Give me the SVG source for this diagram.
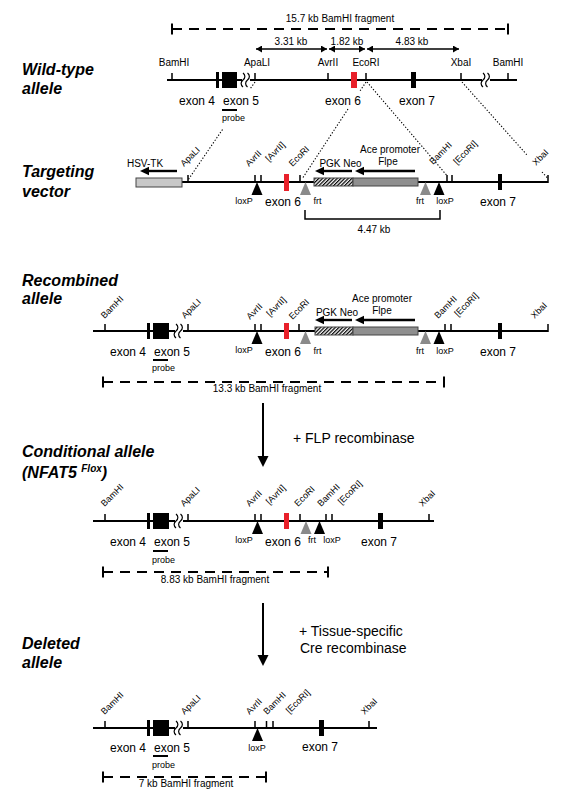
<svg xmlns="http://www.w3.org/2000/svg" width="561" height="800" viewBox="0 0 561 800">
<style>
text{font-family:'Liberation Sans',Arial,sans-serif;fill:#000}
.ttl{font-size:16px;font-weight:bold;font-style:italic}
.s12{font-size:12px}
.s10{font-size:10px}
.s9{font-size:9px}
.s14{font-size:14px}
.mid{text-anchor:middle}
.end{text-anchor:end}
.ln{stroke:#000;stroke-width:2;fill:none}
.tk{stroke:#000;stroke-width:1.5;fill:none}
.dash{stroke:#000;stroke-width:2.2;stroke-dasharray:10 7;fill:none}
.dot{stroke:#000;stroke-width:1.1;stroke-dasharray:1.3 1.8;fill:none}
.thin{stroke:#000;stroke-width:1.5;fill:none}
.arr{stroke:#000;stroke-width:2.4;fill:none}
.red{fill:#e8202a}
.blk{fill:#000}
.frt{fill:#8a8a8a}
.tk2{fill:#c8c8c8;stroke:#444;stroke-width:1}
.flp{fill:#8f8f8f;stroke:#444;stroke-width:1}
.hat{fill:url(#hatch);stroke:#444;stroke-width:1}
</style>
<defs>
<pattern id="hatch" width="2.6" height="2.6" patternUnits="userSpaceOnUse" patternTransform="rotate(45)">
<rect width="2.6" height="2.6" fill="#fff"/>
<line x1="0.6" y1="0" x2="0.6" y2="2.6" stroke="#000" stroke-width="1.3"/>
</pattern>
<marker id="ah" markerUnits="userSpaceOnUse" markerWidth="6" markerHeight="7" refX="6" refY="3.5" orient="auto-start-reverse">
<path d="M0,0L6,3.5L0,7z" fill="#000"/>
</marker>
<g id="brk">
<rect x="-4" y="-3" width="8" height="6" fill="#fff"/>
<path d="M-3,-7c2.5,2 2.5,5 0,7c-2.5,2 -2.5,5 0,7M1.5,-7c2.5,2 2.5,5 0,7c-2.5,2 -2.5,5 0,7" fill="none" stroke="#000" stroke-width="1.2"/>
</g>
<path id="lox" d="M-5.5,13L0,0L5.5,13z"/>
</defs>

<g id="wild-type">
<text class="ttl" x="22" y="75">Wild-type</text>
<text class="ttl" x="22" y="94">allele</text>
<line class="dash" x1="172" y1="29" x2="508" y2="29"/>
<line class="tk" x1="172" y1="23.5" x2="172" y2="34.5" style="stroke-width:2"/>
<line class="tk" x1="508" y1="23.5" x2="508" y2="34.5" style="stroke-width:2"/>
<text class="s10 mid" x="340" y="22">15.7 kb BamHI fragment</text>
<line class="thin" x1="256" y1="49" x2="327" y2="49" marker-start="url(#ah)" marker-end="url(#ah)"/>
<line class="thin" x1="329" y1="49" x2="365" y2="49" marker-start="url(#ah)" marker-end="url(#ah)"/>
<line class="thin" x1="367" y1="49" x2="459" y2="49" marker-start="url(#ah)" marker-end="url(#ah)"/>
<text class="s10 mid" x="291" y="44.5">3.31 kb</text>
<text class="s10 mid" x="347" y="44.5">1.82 kb</text>
<text class="s10 mid" x="412" y="44.5">4.83 kb</text>
<line class="ln" x1="167" y1="80" x2="517" y2="80"/>
<path class="tk" d="M172,73V80M255,73V80M328,73V80M366,73V80M461,73V80M508,73V80"/>
<text class="s10 mid" x="174" y="66">BamHI</text>
<text class="s10 mid" x="257" y="66">ApaLI</text>
<text class="s10 mid" x="328" y="66">AvrII</text>
<text class="s10 mid" x="366" y="66">EcoRI</text>
<text class="s10 mid" x="461" y="66">XbaI</text>
<text class="s10 mid" x="508" y="66">BamHI</text>
<rect class="blk" x="216" y="72" width="3" height="16"/>
<rect class="blk" x="222" y="72" width="15" height="16"/>
<rect class="red" x="351" y="72" width="6" height="16"/>
<rect class="blk" x="411" y="72" width="5" height="16"/>
<use href="#brk" x="246" y="80"/>
<use href="#brk" x="486" y="80"/>
<text class="s12 end" x="215" y="105">exon 4</text>
<text class="s12" x="223" y="105">exon 5</text>
<text class="s12 mid" x="343" y="105">exon 6</text>
<text class="s12 mid" x="417" y="105">exon 7</text>
<line class="ln" x1="222" y1="110" x2="237" y2="110"/>
<text class="s9" x="222" y="121">probe</text>
</g>

<g id="targeting-vector">
<text class="ttl" x="22" y="177">Targeting</text>
<text class="ttl" x="22" y="197">vector</text>
<line class="ln" x1="182" y1="182" x2="548" y2="182"/>
<path class="tk" d="M188,175V182M255,175V182M261,175V182M300,175V182M447,175V182M452,175V182M548,175V183"/>
<rect class="tk2" x="136" y="178" width="46" height="9"/>
<rect class="red" x="284" y="174" width="5" height="17"/>
<rect class="blk" x="498" y="174" width="4" height="16"/>
<rect class="hat" x="314" y="178" width="39" height="8"/>
<rect class="flp" x="353" y="178" width="65" height="8"/>
<use href="#lox" x="257" y="182" class="blk"/>
<use href="#lox" x="305.5" y="182" class="frt"/>
<use href="#lox" x="425.5" y="182" class="frt"/>
<use href="#lox" x="439" y="182" class="blk"/>
<line class="arr" x1="177" y1="171" x2="147" y2="171"/>
<path d="M140,171L149,166.8V175.2z"/>
<line class="arr" x1="352" y1="171" x2="322" y2="171"/>
<path d="M315,171L324,166.8V175.2z"/>
<line class="arr" x1="415" y1="171" x2="362" y2="171"/>
<path d="M355,171L364,166.8V175.2z"/>
<text class="s10 mid" x="145" y="166.5">HSV-TK</text>
<text class="s10 mid" x="340.5" y="166.5">PGK Neo</text>
<text class="s10 mid" x="390" y="153">Ace promoter</text>
<text class="s10 mid" x="388" y="165">Flpe</text>
<text class="s9" transform="translate(184,167) rotate(-45)">ApaLI</text>
<text class="s9" transform="translate(249,167) rotate(-45)">AvrII</text>
<text class="s9" transform="translate(269,162) rotate(-45)">[AvrII]</text>
<text class="s9" transform="translate(292.5,167) rotate(-45)">EcoRI</text>
<text class="s9" transform="translate(433,165) rotate(-45)">BamHI</text>
<text class="s9" transform="translate(457,165) rotate(-45)">[EcoRI]</text>
<text class="s9" transform="translate(536,166) rotate(-45)">XbaI</text>
<text class="s9 mid" x="244" y="204">loxP</text>
<text class="s12 mid" x="283" y="206">exon 6</text>
<text class="s9 mid" x="317.5" y="204">frt</text>
<text class="s9 mid" x="420" y="204">frt</text>
<text class="s9 mid" x="445" y="204">loxP</text>
<text class="s12 mid" x="498" y="206">exon 7</text>
<path class="thin" d="M305,210V219H440V210"/>
<text class="s10 mid" x="374" y="233">4.47 kb</text>
</g>

<g id="recombined">
<text class="ttl" x="22" y="286">Recombined</text>
<text class="ttl" x="22" y="304">allele</text>
<line class="ln" x1="93" y1="331" x2="548" y2="331"/>
<path class="tk" d="M105,324V331M188,324V331M255,324V331M261,324V331M299,324V331M445,324V331M451,324V331M548,324V332"/>
<rect class="blk" x="147" y="323" width="3" height="16"/>
<rect class="blk" x="153" y="323" width="16" height="16"/>
<rect class="red" x="284" y="323" width="5" height="16"/>
<rect class="blk" x="498" y="323" width="4" height="16"/>
<use href="#brk" x="179" y="331"/>
<rect class="hat" x="315" y="327" width="38" height="8"/>
<rect class="flp" x="353" y="327" width="65" height="8"/>
<use href="#lox" x="257" y="331" class="blk"/>
<use href="#lox" x="305.5" y="331" class="frt"/>
<use href="#lox" x="425.5" y="331" class="frt"/>
<use href="#lox" x="439" y="331" class="blk"/>
<line class="arr" x1="352" y1="320" x2="322" y2="320"/>
<path d="M315,320L324,315.8V324.2z"/>
<line class="arr" x1="415" y1="320" x2="362" y2="320"/>
<path d="M355,320L364,315.8V324.2z"/>
<text class="s10 mid" x="337" y="316">PGK Neo</text>
<text class="s10 mid" x="382" y="302">Ace promoter</text>
<text class="s10 mid" x="382" y="314">Flpe</text>
<text class="s9" transform="translate(104.5,319) rotate(-45)">BamHI</text>
<text class="s9" transform="translate(185,319) rotate(-45)">ApaLI</text>
<text class="s9" transform="translate(250,320) rotate(-45)">AvrII</text>
<text class="s9" transform="translate(270,317) rotate(-45)">[AvrII]</text>
<text class="s9" transform="translate(292.5,320) rotate(-45)">EcoRI</text>
<text class="s9" transform="translate(438,319) rotate(-45)">BamHI</text>
<text class="s9" transform="translate(458,317) rotate(-45)">[EcoRI]</text>
<text class="s9" transform="translate(534.5,319) rotate(-45)">XbaI</text>
<text class="s12 end" x="146" y="356">exon 4</text>
<text class="s12" x="154" y="356">exon 5</text>
<text class="s9 mid" x="244" y="353">loxP</text>
<text class="s12 mid" x="283" y="356">exon 6</text>
<text class="s9 mid" x="317.5" y="354">frt</text>
<text class="s9 mid" x="420" y="354">frt</text>
<text class="s9 mid" x="445" y="354">loxP</text>
<text class="s12 mid" x="498" y="356">exon 7</text>
<line class="ln" x1="153" y1="360" x2="168" y2="360"/>
<text class="s9" x="152" y="371">probe</text>
<line class="dash" x1="103" y1="382" x2="444" y2="382"/>
<line class="tk" x1="103" y1="376.5" x2="103" y2="387.5" style="stroke-width:2"/>
<line class="tk" x1="444" y1="376.5" x2="444" y2="387.5" style="stroke-width:2"/>
<text class="s10 mid" x="267" y="392">13.3 kb BamHI fragment</text>
</g>

<g id="conditional">
<text class="ttl" x="22" y="457">Conditional allele</text>
<text class="ttl" x="22" y="478">(NFAT5 <tspan font-size="10" dy="-6">Flox</tspan><tspan dy="6">)</tspan></text>
<line class="ln" x1="93" y1="521" x2="434" y2="521"/>
<path class="tk" d="M105,514V521M188,514V521M255,514V521M261,514V521M300,514V521M326,514V521M332,514V521M429,514V521"/>
<rect class="blk" x="147" y="513" width="3" height="16"/>
<rect class="blk" x="153" y="513" width="16" height="16"/>
<rect class="red" x="284" y="513" width="5" height="16"/>
<rect class="blk" x="378" y="513" width="5" height="16"/>
<use href="#brk" x="179" y="521"/>
<use href="#lox" x="257.5" y="521" class="blk"/>
<use href="#lox" x="306" y="521" class="frt"/>
<use href="#lox" x="319.5" y="521" class="blk"/>
<text class="s9" transform="translate(104.6,507) rotate(-45)">BamHI</text>
<text class="s9" transform="translate(184,507) rotate(-45)">ApaLI</text>
<text class="s9" transform="translate(249.6,507) rotate(-45)">AvrII</text>
<text class="s9" transform="translate(269.6,505) rotate(-45)">[AvrII]</text>
<text class="s9" transform="translate(298,507) rotate(-45)">EcoRI</text>
<text class="s9" transform="translate(321,507) rotate(-45)">BamHI</text>
<text class="s9" transform="translate(341.6,505) rotate(-45)">[EcoRI]</text>
<text class="s9" transform="translate(422.6,507) rotate(-45)">XbaI</text>
<text class="s12 end" x="146" y="546">exon 4</text>
<text class="s12" x="154" y="546">exon 5</text>
<text class="s9 mid" x="244" y="543">loxP</text>
<text class="s12 mid" x="283" y="546">exon 6</text>
<text class="s9 mid" x="312" y="543">frt</text>
<text class="s9 mid" x="332" y="543">loxP</text>
<text class="s12 mid" x="379" y="546">exon 7</text>
<line class="ln" x1="153" y1="551" x2="168" y2="551"/>
<text class="s9" x="152" y="563">probe</text>
<line class="dash" x1="103" y1="572" x2="328" y2="572"/>
<line class="tk" x1="103" y1="566.5" x2="103" y2="577.5" style="stroke-width:2"/>
<line class="tk" x1="328" y1="566.5" x2="328" y2="577.5" style="stroke-width:2"/>
<text class="s10 mid" x="215" y="583">8.83 kb BamHI fragment</text>
</g>

<g id="deleted">
<text class="ttl" x="22" y="649">Deleted</text>
<text class="ttl" x="22" y="668">allele</text>
<line class="ln" x1="93" y1="728" x2="377" y2="728"/>
<path class="tk" d="M105,721V728M188,721V728M255,721V728M266.5,721V728M273,721V728M369,721V728"/>
<rect class="blk" x="147" y="720" width="3" height="16"/>
<rect class="blk" x="153" y="720" width="16" height="16"/>
<rect class="blk" x="319" y="720" width="5" height="16"/>
<use href="#brk" x="179" y="728"/>
<use href="#lox" x="257.5" y="728" class="blk"/>
<text class="s9" transform="translate(104.6,715) rotate(-45)">BamHI</text>
<text class="s9" transform="translate(184.6,715) rotate(-45)">ApaLI</text>
<text class="s9" transform="translate(249.6,715) rotate(-45)">AvrII</text>
<text class="s9" transform="translate(267,715) rotate(-45)">BamHI</text>
<text class="s9" transform="translate(289.6,714) rotate(-45)">[EcoRI]</text>
<text class="s9" transform="translate(364.6,715) rotate(-45)">XbaI</text>
<text class="s12 end" x="146" y="752">exon 4</text>
<text class="s12" x="154" y="752">exon 5</text>
<text class="s9 mid" x="257" y="751">loxP</text>
<text class="s12 mid" x="320" y="751">exon 7</text>
<line class="ln" x1="153" y1="756" x2="168" y2="756"/>
<text class="s9" x="152" y="768">probe</text>
<line class="dash" x1="103" y1="777" x2="266" y2="777"/>
<line class="tk" x1="103" y1="771.5" x2="103" y2="782.5" style="stroke-width:2"/>
<line class="tk" x1="266" y1="771.5" x2="266" y2="782.5" style="stroke-width:2"/>
<text class="s10 mid" x="186" y="787">7 kb BamHI fragment</text>
</g>

<g id="connectors">
<path class="dot" d="M255,82L250,89M222.5,129.5L188,180"/>
<path class="dot" d="M366,82L360,91M348,109L302,179"/>
<path class="dot" d="M367,82L446.5,175"/>
<path class="dot" d="M462,82L527,155M542,172L547.5,178"/>
<line class="ln" x1="263" y1="403" x2="263" y2="457"/>
<path d="M257.5,456H268.5L263,467z"/>
<text class="s14" x="293" y="443">+ FLP recombinase</text>
<line class="ln" x1="263" y1="603" x2="263" y2="656"/>
<path d="M257.5,655H268.5L263,666z"/>
<text class="s14" x="299" y="636">+ Tissue-specific</text>
<text class="s14" x="300" y="653">Cre recombinase</text>
</g>
</svg>
